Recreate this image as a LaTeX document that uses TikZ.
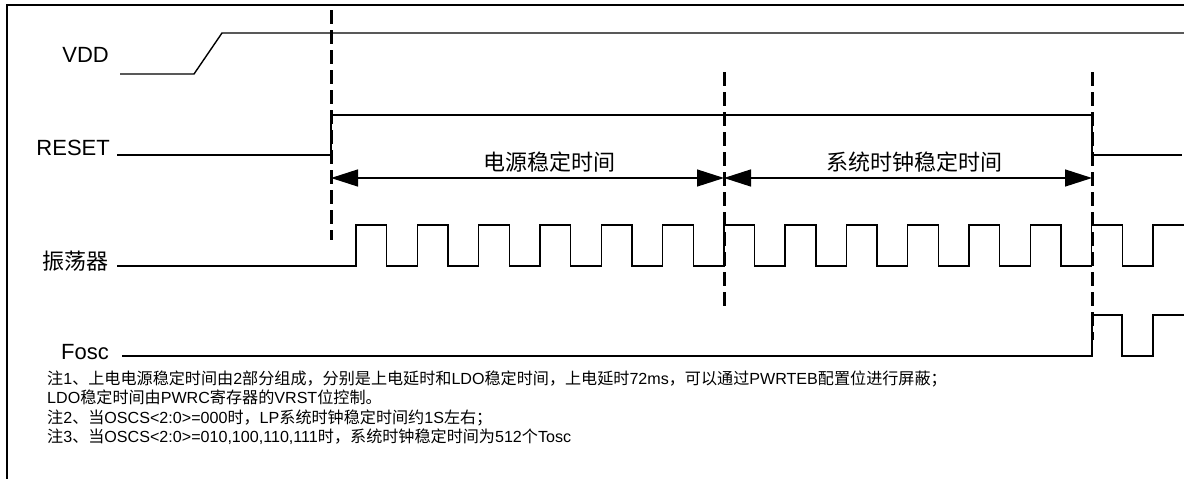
\documentclass[tikz,border=0pt]{standalone}
\usepackage{fontspec}
\setmainfont{Liberation Sans}
\newfontfamily\cjk{Noto Sans CJK SC}
\usetikzlibrary{arrows.meta}
\tikzstyle{signal} = [line width=1.4pt, draw, line join=miter]
\tikzstyle{guide} = [line width=3pt, draw, dash pattern=on 14pt off 6pt]
\tikzset{
	spanarrow/.style={line width=1.4pt, draw,
		{Triangle[length=27pt,width=17pt]}-{Triangle[length=27pt,width=17pt]}},
	lbl/.style={anchor=base east, inner sep=0pt, font=\fontsize{22}{26}\selectfont},
	spanlbl/.style={inner sep=0pt, font=\cjk\fontsize{22}{26}\selectfont},
	note/.style={anchor=base west, inner sep=0pt, font=\fontsize{16.1}{19.5}\selectfont},
}
\newcommand\zhtxt[1]{{\cjk #1}}

\begin{document}
\begin{tikzpicture}[x=1pt, y=-1pt]
\useasboundingbox (0,0) rectangle (1184,479);
\clip (0,0) rectangle (1184,479);

% frame
\draw[line width=2pt] (7,495) -- (7,5) -- (1195,5);

% dashed guides
\coordinate (g1) at (331,178);
\coordinate (g2) at (724,178);
\coordinate (g3) at (1092,178);
\path [guide] (331,10) -- (331,240);
\path [guide] (724,72) -- (724,312);
\path [guide] (1092,72) -- (1092,340);

% signal names
\node [lbl] (vdd) at (109,62) {VDD};
\node [lbl] (reset) at (110,155) {RESET};
\node [lbl, font=\cjk\fontsize{22}{26}\selectfont] (osc) at (109,269) {振荡器};
\node [lbl] (fosc) at (109,359) {Fosc};

% waveforms
\path [signal] (120,74) -- (194,74) -- (222,33) -- (1184,33);
\path [signal] (117,155) -- (331,155) -- (331,115) -- (1092,115)
	-- (1092,155) -- (1182,155);
\path [signal] (117,266) -- (356,266)
	\foreach \k in {0,...,12}{ -- ++(0,-41) -- ++(30.7,0) -- ++(0,41) -- ++(30.6,0) }
	-- ++(0,-41) -- (1184,225);
\path [signal] (122,356) -- (1092,356) -- (1092,315) -- (1122,315)
	-- (1122,356) -- (1153,356) -- (1153,315) -- (1184,315);

% time spans
\path [spanarrow] (g1) -- (g2);
\path [spanarrow] (g2) -- (g3);
\node [spanlbl] (t1) at (549,162) {电源稳定时间};
\node [spanlbl] (t2) at (914,162) {系统时钟稳定时间};

% notes
\node [note] (n1) at (47,384) {\zhtxt{注}1\zhtxt{、上电电源稳定时间由}2\zhtxt{部分组成，分别是上电延时和}LDO\zhtxt{稳定时间，上电延时}72ms\zhtxt{，可以通过}PWRTEB\zhtxt{配置位进行屏蔽；}};
\node [note] (n2) at (47,403) {LDO\zhtxt{稳定时间由}PWRC\zhtxt{寄存器的}VRST\zhtxt{位控制。}};
\node [note] (n3) at (47,423) {\zhtxt{注}2\zhtxt{、当}OSCS<2:0>=000\zhtxt{时，}LP\zhtxt{系统时钟稳定时间约}1S\zhtxt{左右；}};
\node [note] (n4) at (47,442) {\zhtxt{注}3\zhtxt{、当}OSCS<2:0>=010,100,110,111\zhtxt{时，系统时钟稳定时间为}512\zhtxt{个}Tosc};

\end{tikzpicture}
\end{document}
